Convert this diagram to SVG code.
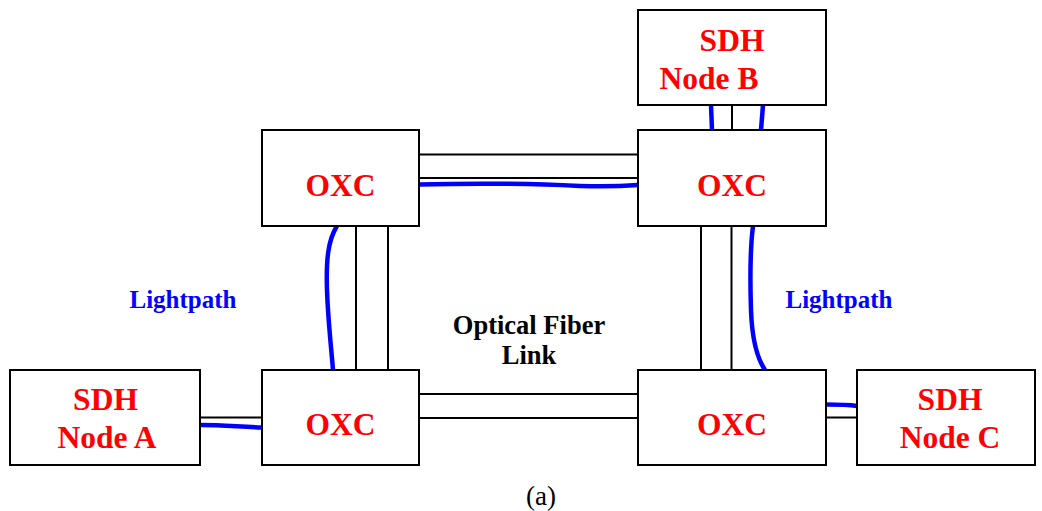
<svg xmlns="http://www.w3.org/2000/svg" width="1042" height="511" viewBox="0 0 1042 511">
<style>
.box{fill:#fff;stroke:#000;stroke-width:2}
.fib{stroke:#000;stroke-width:2;fill:none}
.lp{stroke:#0000ff;stroke-width:4.5;fill:none;stroke-linecap:butt}
.nt{font-family:"Liberation Serif",serif;font-weight:bold;font-size:31.5px;fill:#ff0000;text-anchor:middle}
.bl{font-family:"Liberation Serif",serif;font-weight:bold;font-size:25px;fill:#0000ff;text-anchor:middle}
.bk{font-family:"Liberation Serif",serif;font-weight:bold;font-size:26.5px;fill:#000;text-anchor:middle}
</style>
<rect width="1042" height="511" fill="#fff"/>
<g id="connectors">
<line class="fib" x1="732" y1="105" x2="732" y2="130"/>
<line class="fib" x1="419" y1="154.5" x2="638" y2="154.5"/>
<line class="fib" x1="419" y1="178" x2="638" y2="178"/>
<line class="fib" x1="356" y1="226" x2="356" y2="370"/>
<line class="fib" x1="388" y1="226" x2="388" y2="370"/>
<line class="fib" x1="701" y1="226" x2="701" y2="370"/>
<line class="fib" x1="731.5" y1="226" x2="731.5" y2="370"/>
<line class="fib" x1="419" y1="394" x2="638" y2="394"/>
<line class="fib" x1="419" y1="418" x2="638" y2="418"/>
<line class="fib" x1="200" y1="417.5" x2="262" y2="417.5"/>
<line class="fib" x1="826" y1="417.5" x2="857" y2="417.5"/>
<path class="lp" d="M711,105 L712,130"/>
<path class="lp" d="M763,105 L761,130"/>
<path class="lp" d="M419,184.5 C480,183 540,184 580,186 C610,187 625,186 638,185"/>
<path class="lp" d="M337,226 C328,240 326,260 327,290 C328,320 331,345 333,370"/>
<path class="lp" d="M753,226 C750,250 750,280 751,310 C752,340 757,358 765,370"/>
<path class="lp" d="M200,425 C225,425 240,427 262,427.5"/>
<path class="lp" d="M826,404.5 C840,404.5 850,405 857,406"/>
</g>
<g id="nodeB"><rect class="box" x="638" y="10" width="188" height="95"/><text class="nt" x="732" y="51">SDH</text><text class="nt" x="709" y="89">Node B</text></g>
<g id="oxcTL"><rect class="box" x="262" y="130" width="157" height="96"/><text class="nt" x="340.5" y="196">OXC</text></g>
<g id="oxcTR"><rect class="box" x="638" y="130" width="188" height="96"/><text class="nt" x="732" y="196">OXC</text></g>
<g id="oxcBL"><rect class="box" x="262" y="370" width="157" height="95"/><text class="nt" x="340.5" y="435">OXC</text></g>
<g id="oxcBR"><rect class="box" x="638" y="370" width="188" height="95"/><text class="nt" x="732" y="435">OXC</text></g>
<g id="nodeA"><rect class="box" x="10" y="370" width="190" height="95"/><text class="nt" x="105.5" y="410">SDH</text><text class="nt" x="107" y="448">Node A</text></g>
<g id="nodeC"><rect class="box" x="857" y="370" width="178" height="95"/><text class="nt" x="950" y="410">SDH</text><text class="nt" x="950" y="448">Node C</text></g>
<g id="labels">
<text class="bl" x="183" y="308">Lightpath</text>
<text class="bl" x="839" y="308">Lightpath</text>
<text class="bk" x="529" y="334">Optical Fiber</text>
<text class="bk" x="529" y="364">Link</text>
<text x="541" y="505" style="font-family:'Liberation Serif',serif;font-size:27px;fill:#000;text-anchor:middle">(a)</text>
</g>
</svg>
